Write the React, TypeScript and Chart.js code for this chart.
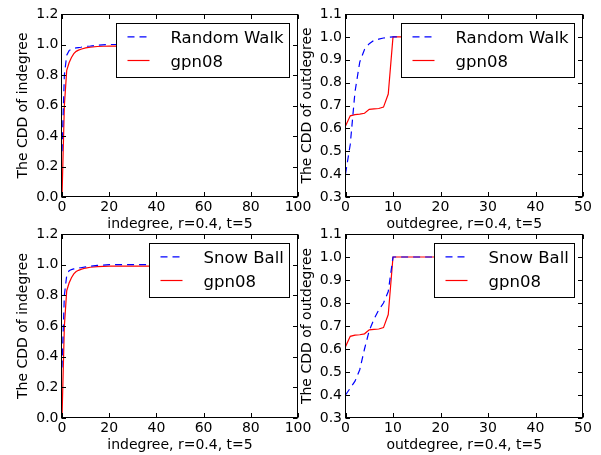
import React, { useEffect, useRef } from 'react';
import { Chart, registerables } from 'chart.js';

Chart.register(...registerables);

const FONT = '"DejaVu Sans", "Liberation Sans", sans-serif';

// Indegree panels
const inDegree = [0, 1, 2, 3, 4, 5, 6, 7, 8, 10, 12, 15, 20, 25, 30, 40];
const rwIn = [0.3, 0.8, 0.93, 0.96, 0.97, 0.975, 0.978, 0.98, 0.982, 0.988, 0.99, 0.995, 1.0, 1.0, 1.0, 1.0];
const sbIn = [0.33, 0.8, 0.93, 0.96, 0.968, 0.972, 0.975, 0.978, 0.98, 0.985, 0.99, 0.995, 1.0, 1.0, 1.0, 1.0];
const gpnIn = [0.0, 0.6, 0.83, 0.88, 0.915, 0.94, 0.955, 0.963, 0.969, 0.978, 0.983, 0.987, 0.99, 0.99, 0.99, 0.99];

// Outdegree panels
const outDegree = [0, 1, 2, 3, 4, 5, 6, 7, 8, 9, 10, 12, 15, 20, 25];
const rwOut = [0.4, 0.53, 0.76, 0.89, 0.945, 0.97, 0.985, 0.99, 0.995, 0.998, 1.0, 1.0, 1.0, 1.0, 1.0];
const sbOut = [0.4, 0.43, 0.46, 0.51, 0.6, 0.68, 0.73, 0.77, 0.8, 0.85, 1.0, 1.0, 1.0, 1.0, 1.0];
const gpnOut = [0.61, 0.655, 0.66, 0.662, 0.666, 0.683, 0.685, 0.687, 0.693, 0.75, 1.0, 1.0, 1.0, 1.0, 1.0];

const samplerNames = ['Random Walk', 'Snow Ball'];
const modelName = 'gpn08';
const xTitles = ['indegree, r=0.4, t=5', 'outdegree, r=0.4, t=5'];
const yTitles = ['The CDD of indegree', 'The CDD of outdegree'];

type Panel = {
  left: number; top: number; width: number; height: number;
  padRight: number; yAxisWidth: number; yTitlePad: number;
  xs: number[]; blue: number[]; red: number[]; blueLabel: string;
  xMax: number; xStep: number; yMin: number; yMax: number; yStep: number;
  xTitle: string; yTitle: string;
};

const panels: Panel[] = [
  { left: 0, top: 0, width: 320, height: 233, padRight: 22, yAxisWidth: 62, yTitlePad: 15,
    xs: inDegree, blue: rwIn, red: gpnIn, blueLabel: samplerNames[0],
    xMax: 100, xStep: 20, yMin: 0, yMax: 1.2, yStep: 0.2, xTitle: xTitles[0], yTitle: yTitles[0] },
  { left: 290, top: 0, width: 311, height: 233, padRight: 18, yAxisWidth: 55.5, yTitlePad: 8.6,
    xs: outDegree, blue: rwOut, red: gpnOut, blueLabel: samplerNames[0],
    xMax: 50, xStep: 10, yMin: 0.3, yMax: 1.1, yStep: 0.1, xTitle: xTitles[1], yTitle: yTitles[1] },
  { left: 0, top: 220, width: 320, height: 234, padRight: 22, yAxisWidth: 62, yTitlePad: 15,
    xs: inDegree, blue: sbIn, red: gpnIn, blueLabel: samplerNames[1],
    xMax: 100, xStep: 20, yMin: 0, yMax: 1.2, yStep: 0.2, xTitle: xTitles[0], yTitle: yTitles[0] },
  { left: 290, top: 220, width: 311, height: 234, padRight: 18, yAxisWidth: 55.5, yTitlePad: 8.6,
    xs: outDegree, blue: sbOut, red: gpnOut, blueLabel: samplerNames[1],
    xMax: 50, xStep: 10, yMin: 0.3, yMax: 1.1, yStep: 0.1, xTitle: xTitles[1], yTitle: yTitles[1] },
];

const BLUE = '#0000ff';
const RED = '#ff0000';
const DASH = [7, 5];

function makeFramePlugin(blueLabel: string) {
  return {
    id: 'mplFrame',
    afterDraw(chart: any) {
      const ctx: CanvasRenderingContext2D = chart.ctx;
      const { left, right, top, bottom } = chart.chartArea;
      const xs = chart.scales.x;
      const ys = chart.scales.y;
      const L = Math.round(left) - 0.5;
      const R = Math.round(right) - 0.5;
      const T = Math.round(top) + 0.5;
      const B = Math.round(bottom) - 0.5;
      ctx.save();
      ctx.strokeStyle = '#000';
      ctx.lineWidth = 1;
      ctx.setLineDash([]);
      ctx.strokeRect(L, T, R - L, B - T);
      const tl = 4.5;
      ctx.beginPath();
      xs.ticks.forEach((t: any) => {
        const px = Math.round(xs.getPixelForValue(t.value)) + 0.5;
        ctx.moveTo(px, B); ctx.lineTo(px, B - tl);
        ctx.moveTo(px, T); ctx.lineTo(px, T + tl);
      });
      ys.ticks.forEach((t: any) => {
        const py = Math.round(ys.getPixelForValue(t.value)) + 0.5;
        ctx.moveTo(L, py); ctx.lineTo(L + tl, py);
        ctx.moveTo(R, py); ctx.lineTo(R - tl, py);
      });
      ctx.stroke();

      // legend
      const items = [
        { label: blueLabel, color: BLUE, dash: DASH },
        { label: modelName, color: RED, dash: [] as number[] },
      ];
      ctx.font = `16.5px ${FONT}`;
      const textW = Math.max(...items.map((it) => ctx.measureText(it.label).width));
      const boxW = Math.round(54 + textW + 6);
      const boxH = 54;
      const bx = Math.round(R - 9 - boxW) + 0.5;
      const by = Math.round(T + 8) + 0.5;
      ctx.fillStyle = '#fff';
      ctx.fillRect(bx, by, boxW, boxH);
      ctx.strokeStyle = '#000';
      ctx.lineWidth = 1;
      ctx.strokeRect(bx, by, boxW, boxH);
      items.forEach((it, i) => {
        const hy = by + 13.4 + i * 23.6;
        ctx.beginPath();
        ctx.strokeStyle = it.color;
        ctx.lineWidth = 1.2;
        ctx.setLineDash(it.dash);
        ctx.moveTo(bx + 11, hy);
        ctx.lineTo(bx + 33, hy);
        ctx.stroke();
        ctx.setLineDash([]);
        ctx.fillStyle = '#000';
        ctx.textAlign = 'left';
        ctx.textBaseline = 'alphabetic';
        ctx.fillText(it.label, bx + 54, by + 19.4 + i * 24);
      });
      ctx.restore();
    },
  };
}

function PanelChart({ p }: { p: Panel }) {
  const ref = useRef<HTMLCanvasElement>(null);
  useEffect(() => {
    if (!ref.current) return;
    const tickFont = { family: FONT, size: 14 };
    const chart = new Chart(ref.current, {
      type: 'line',
      data: {
        datasets: [
          {
            label: p.blueLabel,
            data: p.xs.map((x, i) => ({ x, y: p.blue[i] })),
            borderColor: BLUE,
            borderWidth: 1.2,
            borderDash: DASH,
            pointRadius: 0,
            fill: false,
            tension: 0,
          },
          {
            label: modelName,
            data: p.xs.map((x, i) => ({ x, y: p.red[i] })),
            borderColor: RED,
            borderWidth: 1.2,
            pointRadius: 0,
            fill: false,
            tension: 0,
          },
        ],
      },
      options: {
        responsive: false,
        animation: false,
        devicePixelRatio: 1,
        layout: { padding: { left: 0, top: 14, right: p.padRight, bottom: 0 } },
        plugins: { legend: { display: false }, tooltip: { enabled: false } },
        events: [],
        scales: {
          x: {
            type: 'linear',
            min: 0,
            max: p.xMax,
            grid: { display: false, drawTicks: false },
            border: { display: false },
            ticks: {
              stepSize: p.xStep,
              font: tickFont,
              color: '#000',
              padding: 2,
              maxRotation: 0,
              autoSkip: false,
              callback: (v: any) => String(Math.round(Number(v))),
            },
            title: {
              display: true,
              text: p.xTitle,
              font: tickFont,
              color: '#000',
              padding: { top: 0, bottom: 0.6 },
            },
            afterFit: (s: any) => { s.height = 36; },
          },
          y: {
            type: 'linear',
            min: p.yMin,
            max: p.yMax,
            grid: { display: false, drawTicks: false },
            border: { display: false },
            ticks: {
              stepSize: p.yStep,
              font: tickFont,
              color: '#000',
              padding: 3.5,
              autoSkip: false,
              callback: (v: any) => Number(v).toFixed(1),
            },
            title: {
              display: true,
              text: p.yTitle,
              font: tickFont,
              color: '#000',
              padding: { top: p.yTitlePad, bottom: 0 },
            },
            afterFit: (s: any) => { s.width = p.yAxisWidth; },
          },
        },
      } as any,
      plugins: [makeFramePlugin(p.blueLabel)],
    });
    return () => chart.destroy();
  }, [p]);
  return (
    <canvas
      ref={ref}
      width={p.width}
      height={p.height}
      style={{ position: 'absolute', left: p.left, top: p.top, width: p.width, height: p.height }}
    />
  );
}

export default function App() {
  return (
    <div style={{ position: 'absolute', left: 0, top: 0, width: 601, height: 455, background: '#fff', overflow: 'hidden' }}>
      {panels.map((p, i) => (
        <PanelChart key={i} p={p} />
      ))}
    </div>
  );
}
